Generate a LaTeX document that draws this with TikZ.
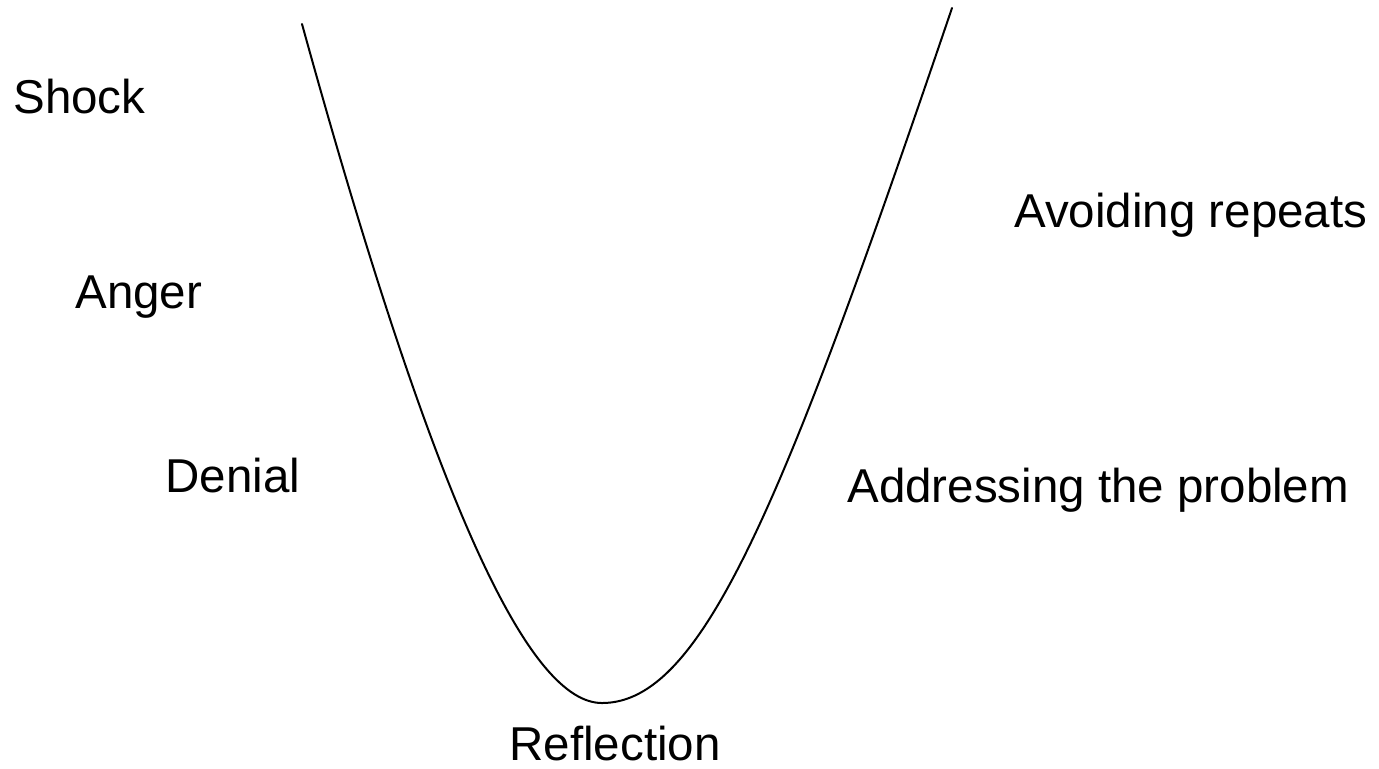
\documentclass[tikz,border=0pt]{standalone}
\usepackage{fontspec}
\setmainfont{Liberation Sans}
\definecolor{griefInk}{HTML}{000000}
\tikzset{
  every node/.style={font=\fontsize{23.75}{28}\selectfont, text=griefInk},
  stage label/.style={inner sep=0pt, anchor=base west},
  valley/.style={line width=1pt, draw=griefInk, line cap=round}
}

\begin{document}
\begin{tikzpicture}[x=0.5pt,y=-0.5pt]
  \useasboundingbox (0,0) rectangle (1379,768);

  % the curve, drawn in two halves that meet at the lowest point
  \coordinate (top left) at (302,24);
  \coordinate (low point) at (602,703);
  \coordinate (top right) at (952,8);
  \draw[valley] (top left) .. controls (440,524) and (532,703) .. (low point)
    .. controls (702,703) and (782,508) .. (top right);

  \node[stage label] (shock) at (13,113) {Shock};
  \node[stage label] (anger) at (75,308) {Anger};
  \node[stage label] (denial) at (165,492) {Denial};
  \node[stage label] (reflection) at (509,760) {Reflection};
  \node[stage label] (address) at (847,502) {Addressing the problem};
  \node[stage label] (avoid) at (1014,227) {Avoiding repeats};
\end{tikzpicture}
\end{document}
